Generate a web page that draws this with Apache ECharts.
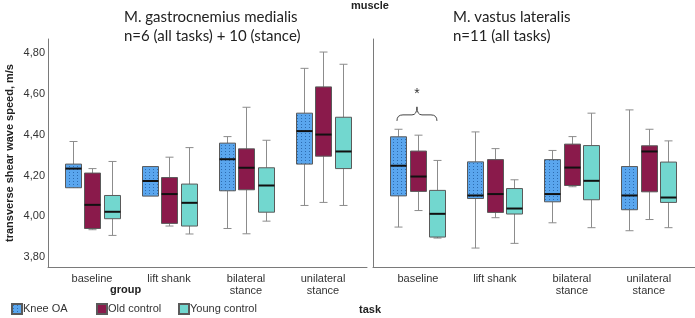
<!DOCTYPE html>
<html>
<head>
<meta charset="utf-8">
<script src="https://cdn.jsdelivr.net/npm/echarts@6/dist/echarts.min.js"></script>
<style>
  html, body { margin: 0; background: #fff; }
  #main { width: 695px; height: 318px; }
</style>
</head>
<body>
<div id="main"></div>
<script>
// tasks on the x axis
const tasks = ['baseline', 'lift shank', 'bilateral\nstance', 'unilateral\nstance'];
const groups = ['Knee OA', 'Old control', 'Young control'];
const yTicks = [3.8, 4.0, 4.2, 4.4, 4.6, 4.8];

// each row: [min, q1, median, q3, max] per task
// M. gastrocnemius medialis
const gmKnee  = [[4.140, 4.140, 4.234, 4.256, 4.367], [4.099, 4.099, 4.173, 4.244, 4.244], [3.940, 4.125, 4.280, 4.359, 4.391], [4.053, 4.256, 4.418, 4.506, 4.726]];
const gmOld   = [[3.934, 3.940, 4.056, 4.212, 4.234], [3.952, 3.965, 4.109, 4.190, 4.290], [3.914, 4.130, 4.238, 4.331, 4.535], [4.068, 4.295, 4.401, 4.635, 4.806]];
const gmYoung = [[3.906, 3.988, 4.022, 4.102, 4.269], [3.913, 3.952, 4.066, 4.158, 4.337], [3.976, 4.020, 4.151, 4.238, 4.373], [4.053, 4.234, 4.318, 4.486, 4.746]];
// M. vastus lateralis
const vlKnee  = [[3.947, 4.100, 4.248, 4.390, 4.427], [3.844, 4.087, 4.102, 4.267, 4.414], [3.968, 4.071, 4.109, 4.278, 4.323], [3.929, 4.032, 4.102, 4.244, 4.522]];
const vlOld   = [[4.028, 4.122, 4.195, 4.320, 4.398], [3.993, 4.019, 4.109, 4.278, 4.332], [4.145, 4.151, 4.239, 4.354, 4.391], [3.984, 4.120, 4.318, 4.346, 4.427]];
const vlYoung = [[3.893, 3.898, 4.012, 4.127, 4.274], [3.867, 4.011, 4.038, 4.136, 4.179], [3.944, 4.081, 4.174, 4.347, 4.506], [3.944, 4.068, 4.092, 4.266, 4.370]];

// significance brace over baseline (vastus lateralis): [task, bottom, top, star]
const sigMark = [[1, 4.468, 4.537, 4.60]];

// dotted fill for knee OA
function dotPattern() {
  const c = document.createElement('canvas');
  c.width = 4; c.height = 3;
  const ctx = c.getContext('2d');
  ctx.fillStyle = '#5aa6ee';
  ctx.fillRect(0, 0, 4, 3);
  ctx.fillStyle = '#2d6cb0';
  ctx.fillRect(1, 1, 1, 1);
  return c;
}
const kneeFill = { image: dotPattern(), repeat: 'repeat' };
const colors = [kneeFill, '#8a1a4b', '#72d7cf'];
const offsets = [-19.5, 0, 19.5];

const font = "'Liberation Sans', Arial, sans-serif";
const headFont = "Lato, 'Open Sans', sans-serif";

function boxRender(gi) {
  return function (params, api) {
    const t = api.value(0);
    const pMin = api.coord([t, api.value(1)]);
    const pQ1 = api.coord([t, api.value(2)]);
    const pMed = api.coord([t, api.value(3)]);
    const pQ3 = api.coord([t, api.value(4)]);
    const pMax = api.coord([t, api.value(5)]);
    const cx = Math.round(pMin[0] + offsets[gi]) + 0.5;
    const hw = 8, cw = 4;
    const wStyle = { stroke: '#8c8c8c', lineWidth: 1 };
    const kids = [];
    if (pMax[1] < pQ3[1] - 0.5) {
      kids.push({ type: 'line', shape: { x1: cx, y1: pMax[1], x2: cx, y2: pQ3[1] }, style: wStyle });
      kids.push({ type: 'line', shape: { x1: cx - cw, y1: pMax[1], x2: cx + cw, y2: pMax[1] }, style: wStyle });
    }
    if (pMin[1] > pQ1[1] + 0.5) {
      kids.push({ type: 'line', shape: { x1: cx, y1: pQ1[1], x2: cx, y2: pMin[1] }, style: wStyle });
      kids.push({ type: 'line', shape: { x1: cx - cw, y1: pMin[1], x2: cx + cw, y2: pMin[1] }, style: wStyle });
    }
    kids.push({
      type: 'rect',
      shape: { x: cx - hw, y: pQ3[1], width: hw * 2, height: pQ1[1] - pQ3[1] },
      style: { fill: colors[gi], stroke: '#5a5a5a', lineWidth: 1 }
    });
    kids.push({ type: 'line', shape: { x1: cx - hw, y1: pMed[1], x2: cx + hw, y2: pMed[1] }, style: { stroke: '#111', lineWidth: 2 } });
    return { type: 'group', children: kids };
  };
}

function toData(arr) {
  return arr.map((r, i) => [i + 1].concat(r));
}

function boxSeries(name, arr, gi, idx) {
  return {
    type: 'custom',
    name: name,
    xAxisIndex: idx,
    yAxisIndex: idx,
    renderItem: boxRender(gi),
    encode: { x: 0, y: [1, 2, 3, 4, 5] },
    itemStyle: { color: colors[gi], borderColor: '#5a5a5a', borderWidth: 1 },
    data: toData(arr),
    z: 2
  };
}

const axisLineStyle = { lineStyle: { color: '#7a7a7a', width: 1 } };

function xAxisFor(idx, min, max) {
  return {
    type: 'value', gridIndex: idx, min: min, max: max,
    axisLine: Object.assign({ show: true, onZero: false }, axisLineStyle),
    axisTick: { show: false },
    splitLine: { show: false },
    axisLabel: {
      customValues: [1, 2, 3, 4],
      formatter: v => tasks[Math.round(v) - 1] || '',
      color: '#333', fontSize: 11, fontFamily: font, lineHeight: 12, margin: 6
    }
  };
}

function yAxisFor(idx, showLabels) {
  return {
    type: 'value', gridIndex: idx, min: 3.751, max: 4.870,
    axisLine: Object.assign({ show: true }, axisLineStyle),
    axisTick: { show: false },
    splitLine: { show: false },
    axisLabel: {
      show: showLabels,
      customValues: yTicks,
      formatter: v => v.toFixed(2).replace('.', ','),
      color: '#333', fontSize: 11, fontFamily: font, margin: 3
    },
    name: showLabels ? 'transverse shear wave speed, m/s' : '',
    nameLocation: 'middle', nameRotate: 90, nameGap: 33,
    nameTextStyle: { fontSize: 11, fontWeight: 'bold', color: '#222', fontFamily: font }
  };
}

const chart = echarts.init(document.getElementById('main'), null, { renderer: 'canvas' });

const legendBase = {
  top: 303, padding: 0, itemWidth: 10, itemHeight: 10, itemGap: 0, icon: 'rect',
  textStyle: { fontSize: 11, fontFamily: font, color: '#333', padding: [0, 0, 0, -4] }
};
const boldText = { fontSize: 11, fontWeight: 'bold', color: '#222', fontFamily: font };
const headText = { fontSize: 15, fontWeight: 'normal', color: '#222', fontFamily: headFont, lineHeight: 19 };

chart.setOption({
  animation: false,
  backgroundColor: '#fff',
  title: [
    { text: 'muscle', left: 351, top: 0, padding: 0, textStyle: boldText },
    { text: 'M. gastrocnemius medialis\nn=6 (all tasks) + 10 (stance)', left: 124, top: 8, padding: 0, textStyle: headText },
    { text: 'M. vastus lateralis\nn=11 (all tasks)', left: 453, top: 8, padding: 0, textStyle: headText },
    { text: 'group', left: 110, top: 284, padding: 0, textStyle: boldText },
    { text: 'task', left: 359, top: 304, padding: 0, textStyle: boldText }
  ],
  legend: [
    Object.assign({ left: 11, data: [groups[0]] }, legendBase),
    Object.assign({ left: 96, data: [groups[1]] }, legendBase),
    Object.assign({ left: 178, data: [groups[2]] }, legendBase)
  ],
  grid: [
    { left: 48, top: 39, width: 319, height: 228 },
    { left: 373, top: 39, width: 322, height: 228 }
  ],
  xAxis: [xAxisFor(0, 0.4286, 4.571), xAxisFor(1, 0.416, 4.60)],
  yAxis: [yAxisFor(0, true), yAxisFor(1, false)],
  series: [
    boxSeries(groups[0], gmKnee, 0, 0),
    boxSeries(groups[1], gmOld, 1, 0),
    boxSeries(groups[2], gmYoung, 2, 0),
    boxSeries(groups[0], vlKnee, 0, 1),
    boxSeries(groups[1], vlOld, 1, 1),
    boxSeries(groups[2], vlYoung, 2, 1),
    {
      type: 'custom',
      xAxisIndex: 1, yAxisIndex: 1,
      encode: { x: 0, y: [1, 2, 3] },
      data: sigMark,
      renderItem: function (params, api) {
        const t = api.value(0);
        const pb = api.coord([t, api.value(1)]);
        const pt = api.coord([t, api.value(2)]);
        const ps = api.coord([t, api.value(3)]);
        const cx = pb[0] - 1;
        const x1 = cx - 20, x2 = cx + 20;
        const ym = (pb[1] + pt[1]) / 2 + 1;
        const path = 'M' + x1 + ' ' + pb[1] + ' Q' + x1 + ' ' + ym + ' ' + (x1 + 6) + ' ' + ym +
          ' L' + (cx - 5) + ' ' + ym + ' Q' + cx + ' ' + ym + ' ' + cx + ' ' + pt[1] +
          ' Q' + cx + ' ' + ym + ' ' + (cx + 5) + ' ' + ym +
          ' L' + (x2 - 6) + ' ' + ym + ' Q' + x2 + ' ' + ym + ' ' + x2 + ' ' + pb[1];
        return {
          type: 'group',
          children: [
            { type: 'path', shape: { pathData: path }, style: { fill: null, stroke: '#444', lineWidth: 1 } },
            { type: 'text', x: cx, y: ps[1], style: { text: '*', fontSize: 14, fontFamily: font, fill: '#333', align: 'center', verticalAlign: 'middle' } }
          ]
        };
      },
      z: 3
    }
  ]
});
</script>
</body>
</html>
